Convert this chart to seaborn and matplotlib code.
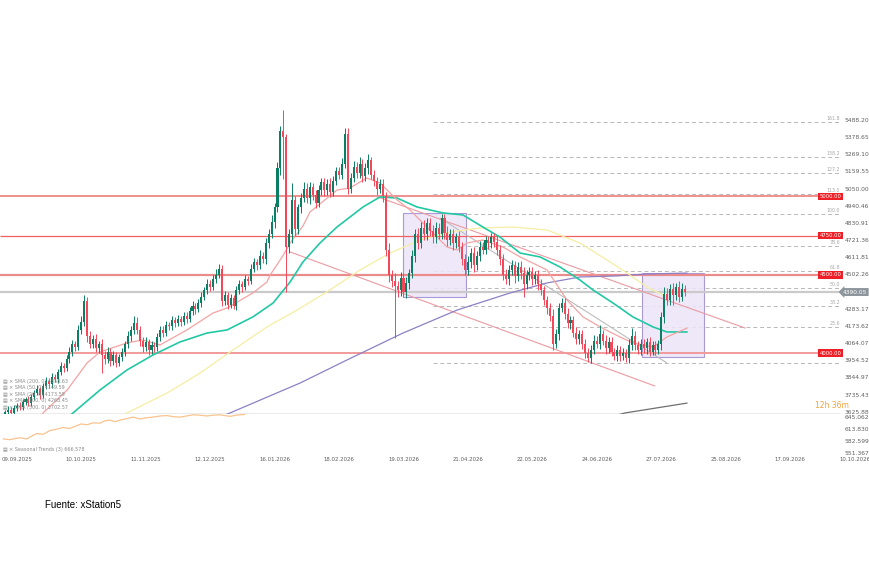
### -------------------- ###
###  Libraries
### -------------------- ###
import numpy as np
import matplotlib
matplotlib.use("Agg")
import matplotlib.pyplot as plt
from matplotlib.patches import Rectangle
import seaborn as sns

### -------------------- ###
###  Data
### -------------------- ###
first_open = 3610

# daily closes, 10 per row (candle index 0..232)
closes = [
    3625, 3640, 3620, 3650, 3665, 3655, 3690, 3705, 3680, 3720,
    3745, 3770, 3735, 3790, 3820, 3800, 3850, 3835, 3880, 3920,
    3905, 3960, 4010, 4060, 4040, 4150, 4200, 4330, 4110, 4060,
    4090, 4030, 4060, 3990, 3960, 4010, 3950, 3990, 3940, 3975,
    4010, 4060, 4110, 4150, 4190, 4150, 4080, 4040, 4070, 4020,
    4050, 4040, 4100, 4150, 4130, 4180, 4170, 4210, 4190, 4220,
    4200, 4240, 4220, 4270, 4300, 4280, 4320, 4360, 4400, 4440,
    4420, 4470, 4500, 4540, 4330, 4370, 4310, 4350, 4300, 4400,
    4440, 4420, 4470, 4460, 4540, 4580, 4560, 4620, 4600, 4700,
    4760, 4840, 4930, 5180, 5420, 5380, 4680, 4760, 4980, 4790,
    4930, 4990, 5050, 4990, 5060, 5010, 4960, 5040, 5090, 5040,
    5080, 5030, 5100, 5160, 5140, 5210, 5400, 5050, 5120, 5190,
    5150, 5210, 5130, 5180, 5230, 5140, 5100, 5050, 5080, 5000,
    4660, 4500, 4460, 4430, 4400, 4480, 4390, 4450, 4510, 4620,
    4760, 4700, 4800, 4760, 4830, 4780, 4740, 4800, 4760, 4860,
    4770, 4720, 4760, 4700, 4740, 4680, 4600, 4530, 4580, 4640,
    4560, 4620, 4680, 4660, 4720, 4700, 4740, 4710, 4660, 4600,
    4500, 4470, 4530, 4560, 4490, 4550, 4510, 4440, 4500, 4520,
    4470, 4500, 4440, 4400, 4340, 4290, 4240, 4060, 4120, 4290,
    4320, 4250, 4190, 4210, 4130, 4090, 4120, 4060, 4000, 3970,
    4020, 4080, 4060, 4120, 4080, 4030, 4070, 4010, 3980, 4020,
    3980, 4000, 3970, 4050, 4110, 4050, 4020, 4060, 4030, 4070,
    4010, 4050, 4020, 4060, 4230, 4380, 4340, 4410, 4370, 4420,
    4360, 4410, 4390,
]
# upper / lower wick length in points
wick_up = [
    15, 20, 15, 20, 15, 20, 20, 15, 20, 20,
    20, 25, 15, 20, 25, 20, 25, 15, 20, 25,
    20, 25, 30, 25, 20, 30, 40, 40, 30, 30,
    25, 30, 20, 30, 25, 30, 20, 25, 20, 20,
    25, 20, 30, 25, 45, 40, 25, 20, 30, 20,
    25, 20, 30, 25, 20, 25, 20, 30, 20, 25,
    20, 25, 20, 25, 30, 20, 25, 30, 25, 30,
    25, 30, 35, 30, 20, 25, 20, 25, 20, 30,
    25, 20, 30, 25, 30, 25, 20, 40, 25, 35,
    30, 40, 30, 40, 30, 130, 20, 30, 105, 20,
    25, 30, 40, 35, 30, 25, 30, 35, 30, 25,
    30, 35, 30, 30, 25, 35, 40, 40, 30, 35,
    30, 40, 30, 35, 40, 25, 30, 25, 30, 30,
    30, 40, 30, 50, 30, 40, 30, 35, 30, 40,
    30, 40, 35, 50, 30, 35, 40, 35, 30, 25,
    25, 40, 30, 35, 30, 40, 30, 35, 40, 30,
    35, 30, 35, 30, 25, 30, 25, 30, 35, 30,
    30, 35, 30, 35, 30, 30, 35, 40, 30, 30,
    30, 25, 30, 35, 30, 25, 30, 40, 35, 30,
    35, 30, 35, 30, 30, 35, 30, 25, 30, 30,
    30, 35, 30, 60, 30, 35, 30, 30, 25, 30,
    25, 30, 25, 40, 50, 30, 25, 30, 30, 25,
    30, 25, 30, 25, 30, 40, 35, 30, 40, 30,
    40, 35, 25,
]
wick_dn = [
    15, 20, 15, 15, 20, 15, 20, 20, 15, 20,
    20, 15, 25, 20, 20, 25, 20, 20, 25, 20,
    25, 20, 25, 30, 25, 20, 30, 30, 40, 30,
    30, 25, 30, 115, 30, 25, 30, 25, 30, 25,
    25, 30, 25, 30, 25, 30, 35, 30, 25, 30,
    25, 30, 25, 20, 25, 20, 25, 20, 25, 20,
    25, 20, 25, 20, 25, 30, 20, 25, 20, 25,
    25, 20, 25, 20, 30, 25, 30, 25, 20, 25,
    25, 30, 20, 25, 20, 25, 30, 20, 25, 30,
    30, 25, 40, 30, 40, 270, 290, 40, 60, 40,
    30, 35, 25, 30, 35, 30, 35, 30, 30, 40,
    30, 35, 30, 25, 30, 30, 30, 35, 30, 25,
    35, 30, 40, 30, 35, 30, 35, 40, 30, 35,
    40, 45, 40, 335, 40, 35, 30, 35, 40, 30,
    40, 35, 30, 40, 35, 30, 40, 35, 30, 30,
    40, 35, 30, 40, 30, 35, 40, 30, 30, 35,
    40, 30, 35, 30, 30, 35, 30, 30, 35, 40,
    35, 30, 35, 30, 40, 30, 35, 80, 30, 35,
    35, 30, 40, 30, 35, 40, 35, 40, 30, 35,
    30, 35, 30, 35, 30, 35, 30, 35, 30, 25,
    30, 25, 30, 35, 30, 35, 30, 30, 25, 30,
    30, 25, 25, 35, 30, 30, 25, 30, 30, 35,
    30, 25, 30, 25, 40, 40, 35, 30, 60, 30,
    35, 30, 25,
]

# moving averages: (candle index, price) vertices
sma20_x = [10.2, 13, 21.2, 28, 32.4, 41.6, 47.1, 52.9, 62.1, 71, 75.8, 84.6, 89.4, 90.5, 95,
           97.3, 101.7, 104.1, 113.3, 117.7, 123.5, 128, 133.8, 138.2, 145, 150.9, 154.3, 157.7,
           163.1, 170, 175.8, 185, 191.8, 197.3, 203.1, 209.9, 214.3, 221.2, 225.9, 232.8]
sma20_y = [3541, 3618, 3764, 3937, 4007, 4065, 4084, 4052, 4148, 4256, 4288, 4384, 4454, 4499, 4626,
           4703, 4812, 4901, 5041, 5054, 5118, 5086, 4978, 4914, 4786, 4677, 4658, 4703,
           4722, 4677, 4614, 4531, 4339, 4231, 4167, 4103, 4065, 4039, 4103, 4160]
sma50_x = [18.8, 23.2, 32.4, 41.6, 50.5, 59.7, 68.9, 75.8, 84.6, 91.5, 97.3, 101.7, 107.5, 113.3,
           122.2, 128, 133.8, 140.6, 149.5, 156.3, 163.1, 168.9, 175.8, 182.6, 189.4, 196.2,
           200.7, 207.5, 214.3, 221.2, 225.9, 232.8]
sma50_y = [3541, 3618, 3764, 3892, 3988, 4071, 4128, 4148, 4231, 4320, 4454, 4582, 4703, 4805,
           4933, 4997, 4990, 4933, 4895, 4882, 4805, 4741, 4639, 4614, 4550, 4467,
           4403, 4320, 4231, 4167, 4135, 4135]
sma100_x = [35.8, 41.6, 55.3, 66.6, 77.8, 89.4, 99.7, 110.9, 121.2, 131.4, 141.6, 151.9, 162.1,
            173.4, 185, 196.2, 205.5, 212.3, 219.1, 225.9]
sma100_y = [3541, 3618, 3745, 3873, 4020, 4167, 4275, 4403, 4531, 4639, 4722, 4773, 4799,
            4805, 4786, 4703, 4594, 4511, 4422, 4358]
sma200_x = [66.6, 76.8, 100.7, 116.7, 135.8, 154.3, 172.4, 185, 196.2, 207.5, 219.1, 232.8]
sma200_y = [3541, 3618, 3809, 3956, 4128, 4275, 4384, 4448, 4486, 4492, 4505, 4511]
sma500_x = [203.1, 211.6, 232.8]
sma500_y = [3573, 3618, 3681]

# seasonal trends (lower panel)
seasonal_x = [-0.6, 1.7, 3.5, 5.1, 7.5, 9.0, 10.9, 13, 15.4, 17.5, 19.8, 22, 24.6, 26, 28, 30,
              32.4, 34, 35.8, 37.5, 39.2, 41.5, 43.7, 46.1, 48, 50.5, 53, 55.3, 57.5, 59.7,
              62, 64.2, 66.5, 68.9, 71, 73.4, 75, 76.8, 79, 81.9]
seasonal_y = [588, 586, 589, 591, 588, 595, 602, 600, 610, 613, 618, 615, 623, 627, 625, 630,
              629, 635, 637, 633, 637, 641, 645, 640, 643, 645, 648, 649, 646, 645,
              648, 651, 650, 648, 650, 651, 649, 647, 650, 652]

# drawings
levels_red = [5000, 4750, 4500, 4000]
last_price = 4390.05
fib_prices = [3940, 4164, 4303, 4415, 4527, 4687, 4890, 5014, 5148, 5253, 5477]
fib_labels = ["", "23.6", "38.2", "50.0", "61.8", "78.6", "100.0", "113.0", "127.2", "138.2", "161.8"]
channel_upper = ([126.3, 252.6], [5003, 4160])
channel_lower = ([97.3, 221.8], [4646, 3790])
trend_gray = ([148.5, 225.9], [4862, 3937])
boxes = [(135.8, 4358, 21.5, 537), (217.4, 3975, 21.2, 536)]  # x, y, w, h

price_ticks = [5488.20, 5378.65, 5269.10, 5159.55, 5050.00, 4940.46, 4830.91, 4721.36, 4611.81,
               4502.26, 4283.17, 4173.62, 4064.07, 3954.52, 3844.97, 3735.43, 3625.88]
osc_ticks = [645.062, 613.830, 582.599, 551.367]
date_pos = [4, 26, 48, 70, 92, 114, 136, 158, 180, 202, 224, 246, 268, 290]
date_labels = ["09.09.2025", "10.10.2025", "11.11.2025", "12.12.2025", "16.01.2026", "18.02.2026",
               "19.03.2026", "21.04.2026", "22.05.2026", "24.06.2026", "27.07.2026", "25.08.2026",
               "17.09.2026", "10.10.2026"]
legend_rows = ["SMA (200, 0) 4358.63", "SMA (50, 0) 4149.59", "SMA (20, 0) 4173.59",
               "SMA (100, 0) 4268.45", "SMA (500, 0) 3702.57"]

### -------------------- ###
###  Helpers
### -------------------- ###
GREEN = "#0b7f63"
RED = "#f2485a"


def px(x):
    '''pixel column -> candle index (layout only)'''
    return (x - 5) / 2.93


### -------------------- ###
###  Plot
### -------------------- ###
sns.set_theme(style="white")
plt.rcParams['font.family'] = ['DejaVu Sans']

fig = plt.figure(figsize=(8.7, 5.8), dpi=100)
ax = fig.add_axes([0, 1 - 414 / 580, 1, 314 / 580])
ax2 = fig.add_axes([0, 1 - 456 / 580, 1, 42 / 580])
for a in (ax, ax2):
    a.set_xlim(px(0), px(870))
    for s in a.spines.values():
        s.set_visible(False)
ax.set_ylim(3611.3, 5615.9)
ax2.set_ylim(543.3, 653.1)

# levels
ax.hlines(fib_prices, px(433), px(840), colors="#b8b8b8", lw=0.7, linestyles=(0, (4, 3)), zorder=1)
ax.hlines(levels_red, px(0), px(820), colors=["#ee7272", "#f06262", "#eb8c8c", "#f29a9a"],
          lw=[1.1, 0.9, 1.6, 1.4], zorder=2)
ax.hlines(last_price, px(0), px(839), color="#cacaca", lw=1.6, zorder=2)
ax.axhline(3611.3, xmax=840 / 870, color="#e8e8e8", lw=1.2)

for bx, by, bw, bh in boxes:
    ax.add_patch(Rectangle((bx, by), bw, bh, fc="#ece5f8", ec="#9c8bd0", lw=0.8, alpha=0.85, zorder=1))

# trend lines
ax.plot(*channel_upper, color="#ec9aa2", lw=0.8, zorder=3)
ax.plot(*channel_lower, color="#ec9aa2", lw=0.8, zorder=3)
ax.plot(*trend_gray, color="#bdbdbd", lw=0.8, zorder=3)

# moving averages
sns.lineplot(x=sma200_x, y=sma200_y, ax=ax, color="#8e80c4", lw=0.9, zorder=3)
sns.lineplot(x=sma100_x, y=sma100_y, ax=ax, color="#f6eea2", lw=0.9, zorder=3)
sns.lineplot(x=sma50_x, y=sma50_y, ax=ax, color="#22c8a4", lw=1.2, zorder=3)
sns.lineplot(x=sma20_x, y=sma20_y, ax=ax, color="#f4a3a3", lw=0.9, zorder=3)
sns.lineplot(x=sma500_x, y=sma500_y, ax=ax, color="#6f6f6f", lw=0.9, zorder=3)

# candles
c = np.array(closes, float)
o = np.r_[first_open, c[:-1]]
hi = np.maximum(o, c) + np.array(wick_up)
lo = np.minimum(o, c) - np.array(wick_dn)
idx = np.arange(len(c))
col = np.where(c >= o, GREEN, RED)
ax.vlines(idx, lo, hi, colors=col, lw=0.7, zorder=4)
ax.bar(idx, c - o, bottom=o, width=0.7, color=col, linewidth=0, zorder=5)

# right price scale
ax.set_xticks([])
ax.yaxis.tick_right()
ax.set_yticks(price_ticks, labels=[f"{v:.2f}" for v in price_ticks])
ax.tick_params(axis="y", length=0, pad=-18, labelsize=4.3, labelcolor="#5f5f5f")

for lvl in levels_red:
    ax.text(px(830.5), lvl, f"{lvl:.2f}", ha="center", va="center", fontsize=3.8, color="white",
            bbox=dict(boxstyle="square,pad=0.25", fc="#ee1f26", ec="none"), zorder=6)
ax.text(px(855), last_price, f"{last_price:.2f}", ha="center", va="center", fontsize=4.2, color="white",
        bbox=dict(boxstyle="larrow,pad=0.25", fc="#8c959b", ec="none"), zorder=6)
for lvl, lab in zip(fib_prices, fib_labels):
    ax.text(px(840), lvl + 6, lab, ha="right", va="bottom", fontsize=3.4, color="#a8a8a8")

# lower panel
sns.lineplot(x=seasonal_x, y=seasonal_y, ax=ax2, color="#f9c38e", lw=0.9)
ax2.yaxis.tick_right()
ax2.set_yticks(osc_ticks, labels=[f"{v:.3f}" for v in osc_ticks])
ax2.tick_params(axis="y", length=0, pad=-18, labelsize=4.3, labelcolor="#5f5f5f")
ax2.set_xticks(date_pos, labels=date_labels)
ax2.tick_params(axis="x", length=0, pad=1, labelsize=3.9, labelcolor="#5f5f5f")

# texts
for k, row in enumerate(legend_rows):
    fig.text(3 / 870, 1 - (381 + 6.6 * k) / 580, "\u25a4 \u00d7 " + row, fontsize=3.5,
             color="#8a8a8a", va="center")
fig.text(3 / 870, 1 - 449 / 580, "\u25a4 \u00d7 Seasonal Trends (3) 666.578", fontsize=3.5,
         color="#8a8a8a", va="center")
fig.text(815 / 870, 1 - 405 / 580, "12h 36m", fontsize=5.5, color="#f3a13a", va="center")
fig.text(45 / 870, 1 - 505 / 580, "Fuente: xStation5", fontsize=7, color="black", va="center",
         family=["Liberation Sans", "DejaVu Sans"])

fig.savefig("out.png", dpi=100, facecolor="white")
